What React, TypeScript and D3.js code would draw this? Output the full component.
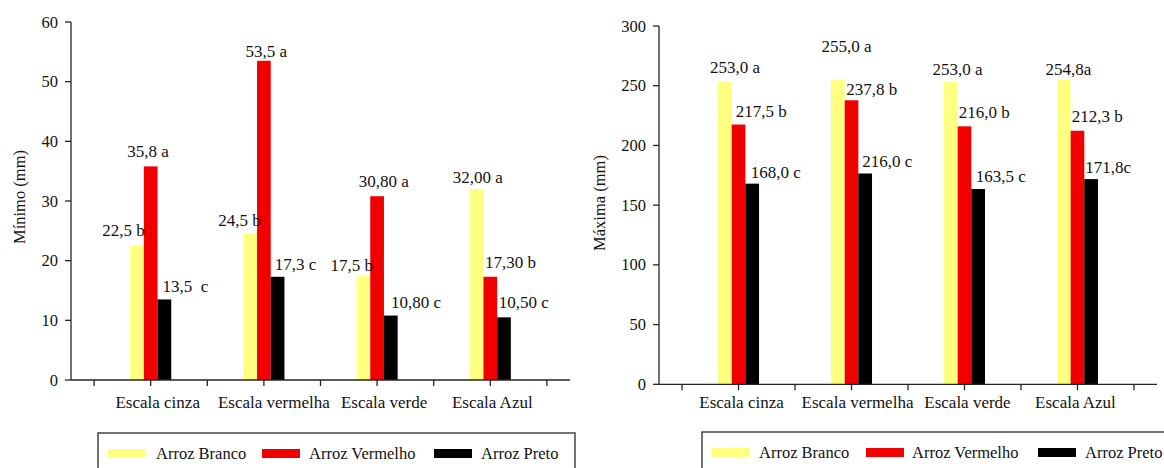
import React from "react";
import * as d3 from "d3";

const categories = ["Escala cinza", "Escala vermelha", "Escala verde", "Escala Azul"];
const seriesNames = ["Arroz Branco", "Arroz Vermelho", "Arroz Preto"];
const seriesColors = ["#FFFF80", "#F20000", "#000000"];

// Left panel: Mínimo (mm)
const minBranco = [22.5, 24.5, 17.5, 32.0];
const minVermelho = [35.8, 53.5, 30.8, 17.3];
const minPreto = [13.5, 17.3, 10.8, 10.5];
const minLabels = [
  ["22,5 b", "35,8 a", "13,5  c"],
  ["24,5 b", "53,5 a", "17,3 c"],
  ["17,5 b", "30,80 a", "10,80 c"],
  ["32,00 a", "17,30 b", "10,50 c"],
];
const minTicks = [0, 10, 20, 30, 40, 50, 60];

// Right panel: Máxima (mm)
const maxBranco = [253.0, 255.0, 253.0, 254.8];
const maxVermelho = [217.5, 237.8, 216.0, 212.3];
const maxPreto = [168.0, 176.5, 163.5, 171.8];
const maxLabels = [
  ["253,0 a", "217,5 b", "168,0 c"],
  ["255,0 a", "237,8 b", "216,0 c"],
  ["253,0 a", "216,0 b", "163,5 c"],
  ["254,8a", "212,3 b", "171,8c"],
];
const maxTicks = [0, 50, 100, 150, 200, 250, 300];

// label nudges (dx from bar left, dy above bar top), layout only
const minNudge = [
  [[-28, 10], [-16.5, 9.5], [5, 7.5]],
  [[-25, 7.5], [-11.5, 4], [4, 7]],
  [[-26, 5], [-11.5, 9.5], [7, 7.5]],
  [[-17, 6], [1.5, 9], [1.5, 9]],
];
const maxNudge = [
  [[-8, 9], [4, 7.5], [5.5, 5.5]],
  [[-9.5, 27.5], [1.5, 5], [4, 6.5]],
  [[-11.5, 7], [1, 8], [4.5, 7]],
  [[-11.5, 5], [1, 9], [1, 6]],
];

const FONT = "'Liberation Serif', 'Times New Roman', Times, 'DejaVu Serif', serif";
const AXIS = "#262626";
const txt = (size: number) => ({ fontFamily: FONT, fontSize: size + "px" });

type PanelProps = {
  x0: number; x1: number; yTop: number; yBottom: number; maxV: number;
  ticks: number[]; values: number[][]; labels: string[][]; nudge: number[][][];
  title: string; titleX: number; titleY: number; catDx: number[];
};

function Panel(p: PanelProps) {
  const x = d3.scaleBand<string>().domain(categories).range([p.x0, p.x1]).paddingInner(0).paddingOuter(0.204);
  const y = d3.scaleLinear().domain([0, p.maxV]).range([p.yBottom, p.yTop]);
  const step = x.step();
  const bw = step * 0.121;
  const boundaries = categories.map((c) => x(c)!).concat([x(categories[3])! + step]);
  const centers = categories.map((c) => x(c)! + step / 2);
  const allTicks = boundaries.concat(centers);
  return (
    <g>
      {categories.map((c, ci) =>
        p.values.map((vals, si) => {
          const left = x(c)! + step / 2 - 1.5 * bw + si * bw;
          return (
            <rect key={c + si} x={left} y={y(vals[ci])} width={bw} height={y(0) - y(vals[ci])} fill={seriesColors[si]} />
          );
        })
      )}
      {categories.map((c, ci) =>
        p.values.map((vals, si) => {
          const left = x(c)! + step / 2 - 1.5 * bw + si * bw;
          const [dx, dy] = p.nudge[ci][si];
          return (
            <text key={"l" + c + si} x={left + dx} y={y(vals[ci]) - dy} style={txt(17)} fill="#111" xmlSpace="preserve">
              {p.labels[ci][si]}
            </text>
          );
        })
      )}
      <line x1={p.x0} x2={p.x0} y1={y(0)} y2={y(p.maxV)} stroke={AXIS} strokeWidth={1.3} />
      {p.ticks.map((t) => (
        <g key={"yt" + t}>
          <line x1={p.x0 - 6} x2={p.x0} y1={y(t)} y2={y(t)} stroke={AXIS} strokeWidth={1.3} />
          <text x={p.x0 - 13} y={y(t) + 5.5} textAnchor="end" style={txt(16.5)} fill="#111">
            {t}
          </text>
        </g>
      ))}
      <line x1={p.x0} x2={p.x1} y1={y(0)} y2={y(0)} stroke={AXIS} strokeWidth={1.3} />
      {allTicks.map((t, i) => (
        <line key={"xt" + i} x1={t} x2={t} y1={y(0)} y2={y(0) + 6} stroke={AXIS} strokeWidth={1.3} />
      ))}
      {categories.map((c, ci) => (
        <text key={"c" + c} x={centers[ci] + p.catDx[ci]} y={407.5} textAnchor="middle" style={txt(17)} fill="#111">
          {c}
        </text>
      ))}
      <text
        transform={`translate(${p.titleX},${p.titleY}) rotate(-90)`}
        textAnchor="middle"
        style={txt(16.5)}
        fill="#111"
      >
        {p.title}
      </text>
    </g>
  );
}

function Legend({ x, y, w, sw, tx }: { x: number; y: number; w: number; sw: number[]; tx: number[] }) {
  return (
    <g>
      <rect x={x} y={y} width={w} height={50} fill="white" stroke="#444" strokeWidth={1.5} />
      {seriesNames.map((s, i) => (
        <g key={s}>
          <rect x={sw[i]} y={y + 16} width={38} height={9} fill={seriesColors[i]} />
          <text x={tx[i]} y={y + 26} style={txt(16.5)} fill="#111">
            {s}
          </text>
        </g>
      ))}
    </g>
  );
}

export default function App() {
  return (
    <svg width={1164} height={468} style={{ position: "absolute", left: 0, top: 0, background: "white" }}>
      <rect width={1164} height={468} fill="white" />
      <Panel
        x0={71} x1={570} yTop={22} yBottom={380} maxV={60} ticks={minTicks}
        values={[minBranco, minVermelho, minPreto]} labels={minLabels} nudge={minNudge}
        title="Mínimo (mm)" titleX={25} titleY={197} catDx={[7, 10, 7, 2]}
      />
      <Panel
        x0={659} x1={1157} yTop={26} yBottom={384.3} maxV={300} ticks={maxTicks}
        values={[maxBranco, maxVermelho, maxPreto]} labels={maxLabels} nudge={maxNudge}
        title="Máxima (mm)" titleX={605} titleY={203} catDx={[3, 6, 3, -2]}
      />
      <Legend x={98} y={433} w={477} sw={[108, 262, 434]} tx={[156, 309, 481]} />
      <Legend x={702} y={432} w={480} sw={[712, 866, 1038]} tx={[759, 912, 1085]} />
    </svg>
  );
}
